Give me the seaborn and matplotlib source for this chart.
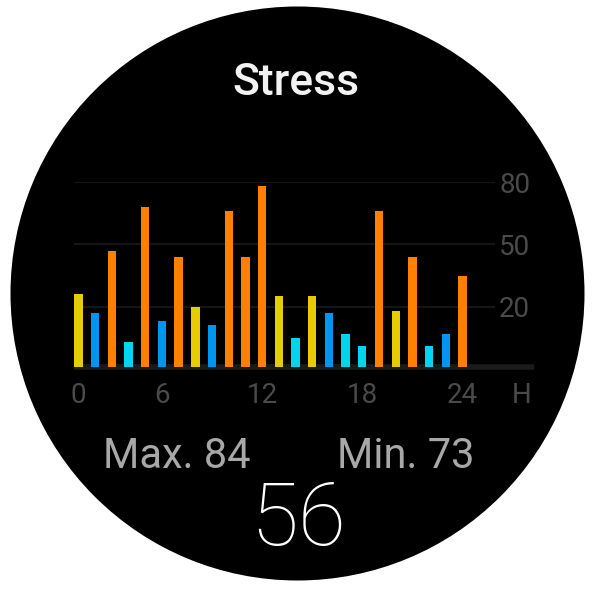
import matplotlib
matplotlib.use("Agg")
import matplotlib.pyplot as plt
from matplotlib.patches import Ellipse
import seaborn as sns
import pandas as pd

# hourly stress values
hours = list(range(24))
stress = [26, 17, 47, 3, 68, 13, 44, 20, 11, 66, 44, 78,
          25, 5, 25, 17, 7, 1, 66, 18, 44, 1, 7, 35]
level = ['mid', 'low', 'high', 'rest', 'high', 'low', 'high', 'mid', 'low', 'high', 'high', 'high',
         'mid', 'rest', 'mid', 'low', 'rest', 'rest', 'high', 'mid', 'high', 'rest', 'low', 'high']
colores = {'high': '#FF8000', 'mid': '#E6CC00', 'low': '#0096F0', 'rest': '#00D4F0'}

base = -9
y_ticks = [20, 50, 80]
x_tick_pos = [0, 5, 11, 17, 23]
x_tick_lab = ['0', '6', '12', '18', '24']
titulo = 'Stress'
max_txt = 'Max. 84'
min_txt = 'Min. 73'
actual = '56'

df = pd.DataFrame({'hora': hours, 'stress': stress, 'nivel': level})
df['alto'] = df['stress'] - base

sns.set_theme(style='white')
plt.rcParams['font.family'] = ['Roboto', 'DejaVu Sans']

fig = plt.figure(figsize=(5.95, 5.94), dpi=100)
fig.patch.set_facecolor('white')
fig.patches.append(Ellipse((0.5, 0.5059), 574 / 595, 574 / 594, transform=fig.transFigure,
                           facecolor='black', edgecolor='none', zorder=-5))

ax = fig.add_axes([74 / 595, 1 - 367 / 594, 421 / 595, 185 / 594])
ax.set_facecolor('none')
ax.set_zorder(2)

for y in y_ticks:
    ax.axhline(y, color='#151515', lw=1.6, zorder=0)
ax.plot([-0.27, 27.3], [base, base], color='#1a1a1a', lw=4, zorder=0, clip_on=False,
        solid_capstyle='butt')

sns.barplot(data=df, x='hora', y='alto', hue='nivel', palette=colores, dodge=False,
            width=0.5, bottom=base, legend=False, errorbar=None, ax=ax, zorder=2,
            linewidth=0, saturation=1)

ax.set_xlim(-0.27, 24.95)
ax.set_ylim(base, 80)
ax.set_xticks(x_tick_pos)
ax.set_xticklabels(x_tick_lab)
ax.set_yticks(y_ticks)
ax.set_yticklabels([str(v) for v in y_ticks])
ax.yaxis.tick_right()
ax.tick_params(axis='y', length=0, pad=3, labelsize=20, labelcolor='#4a4a4a')
ax.tick_params(axis='x', length=0, pad=11, labelsize=20, labelcolor='#4a4a4a')
ax.text(26.55, -0.083, 'H', transform=ax.get_xaxis_transform(), ha='center', va='top',
        fontsize=20, color='#4a4a4a', clip_on=False)
ax.set_xlabel('')
ax.set_ylabel('')
sns.despine(ax=ax, left=True, bottom=True)

fig.text(0.4975, 1 - 95 / 594, titulo, ha='center', va='baseline', fontsize=32,
         fontweight='medium', color='#f2f2f2')
fig.text(177 / 595, 1 - 468 / 594, max_txt, ha='center', va='baseline', fontsize=30,
         color='#a8a8a8')
fig.text(406 / 595, 1 - 468 / 594, min_txt, ha='center', va='baseline', fontsize=30,
         color='#a8a8a8')
fig.text(298.5 / 595, 1 - 545 / 594, actual, ha='center', va='baseline', fontsize=63,
         fontweight='light', color='white')

plt.savefig('out.png', dpi=100)
